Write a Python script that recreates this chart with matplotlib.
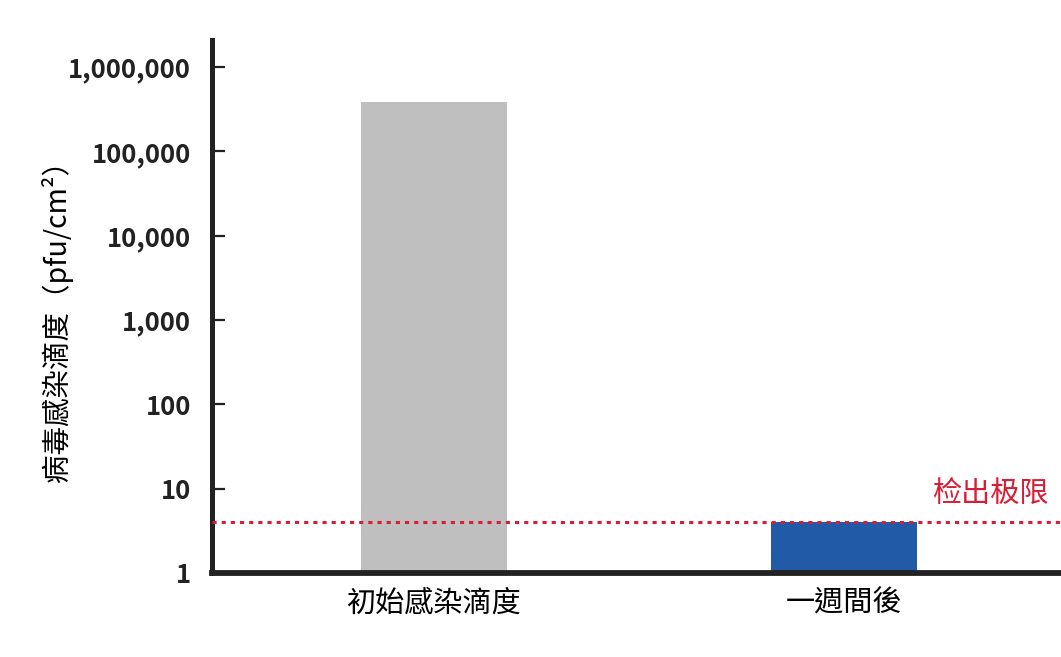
import matplotlib
matplotlib.use("Agg")
import matplotlib.pyplot as plt
from matplotlib.ticker import FixedLocator, FixedFormatter

plt.rcParams['font.family'] = ['Noto Sans CJK TC', 'DejaVu Sans']

categories = ["初始感染滴度", "一週間後"]
values = [380000, 4]
bar_colors = ["#bfbfbf", "#215ba8"]
detect_limit = 4
detect_label = "检出极限"
ytick_vals = [1, 10, 100, 1000, 10000, 100000, 1000000]
ytick_labels = ["1", "10", "100", "1,000", "10,000", "100,000", "1,000,000"]
ylabel = "病毒感染滴度（pfu/cm²）"

fig = plt.figure(figsize=(10.61, 6.57), dpi=100)
ax = fig.add_axes([0.1998, 0.1279, 0.8002, 0.8112])

x = list(range(len(categories)))
ax.bar(x, values, width=0.356, color=bar_colors, zorder=2)
ax.set_yscale('log')
ax.set_ylim(1, 2.09e6)
ax.set_xlim(-0.541, 1.529)

ax.axhline(detect_limit, color="#d81e36", lw=2.2, linestyle=(0, (1.35, 1.65)), zorder=3)
ax.text(0.985, detect_limit * 1.38, detect_label, transform=ax.get_yaxis_transform(),
        ha='right', va='bottom', color="#d81e36", fontsize=21)

ax.yaxis.set_major_locator(FixedLocator(ytick_vals))
ax.yaxis.set_major_formatter(FixedFormatter(ytick_labels))
ax.yaxis.set_minor_locator(FixedLocator([]))
ax.tick_params(axis='y', direction='in', length=9.5, width=1.6, color="#222222",
               pad=15, labelsize=18.5)
for lab in ax.get_yticklabels():
    lab.set_fontweight('bold')
    lab.set_color("#222222")

ax.set_xticks(x)
ax.set_xticklabels(categories, fontsize=21)
ax.tick_params(axis='x', length=0, pad=11)

ax.set_ylabel(ylabel, fontsize=20.5, va='center', ha='center')
ax.yaxis.set_label_coords(-0.1826, 0.485)

for s in ['top', 'right']:
    ax.spines[s].set_visible(False)
ax.spines['left'].set_linewidth(3.6)
ax.spines['bottom'].set_linewidth(4.2)
ax.spines['left'].set_color("#222222")
ax.spines['bottom'].set_color("#222222")

fig.savefig("out.png", dpi=100)
